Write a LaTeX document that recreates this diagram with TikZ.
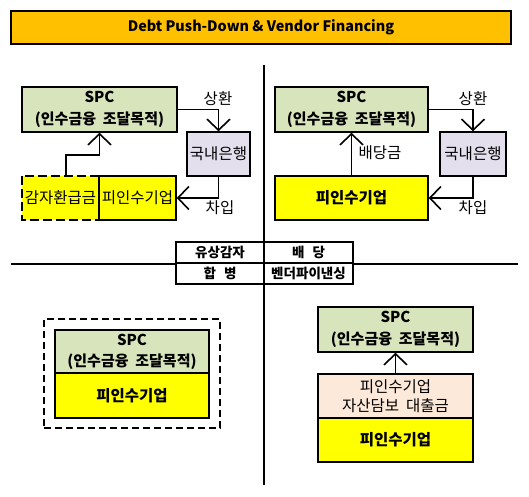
\documentclass[tikz,border=0pt]{standalone}
\usepackage{fontspec}
\setmainfont{Noto Sans CJK KR}
\usetikzlibrary{arrows.meta}
\definecolor{titleorange}{HTML}{FFC000}
\definecolor{spcgreen}{HTML}{D8E4BC}
\definecolor{banklav}{HTML}{E4DFEC}
\definecolor{tgtyellow}{HTML}{FFFF00}
\definecolor{loanpink}{HTML}{FDE9D9}
\newcommand{\wsp}{\hspace{0.45em}}
\tikzset{
  box/.style={draw=black, line width=1.5pt, inner sep=0pt, align=center, font=\fontsize{15.5}{22}\selectfont},
  spcbox/.style={box, fill=spcgreen, font=\bfseries\fontsize{15}{22}\selectfont},
  bankbox/.style={box, fill=banklav},
  tgtbox/.style={box, fill=tgtyellow},
  lbl/.style={inner sep=0pt, font=\fontsize{15.5}{17}\selectfont},
  cell/.style={draw=black, line width=1.5pt, fill=white, inner sep=0pt, font=\bfseries\fontsize{13.5}{15}\selectfont},
  arr/.style={line width=1.6pt, -{Straight Barb[length=11pt,width=23pt]}},
  divline/.style={line width=1.8pt},
}
\begin{document}
\begin{tikzpicture}[x=1pt,y=-1pt]
\useasboundingbox (0,0) rectangle (529,496);
% title
\node[draw=black, line width=2pt, fill=titleorange, minimum width=500pt, minimum height=33pt, inner sep=0pt,
  font=\bfseries\fontsize{14.4}{17}\selectfont] (title) at (261,27.5) {Debt Push-Down \& Vendor Financing};
% dividers
\coordinate (vt) at (264,65);
\coordinate (vb) at (264,485);
\coordinate (hl) at (11,264);
\coordinate (hr) at (518,264);
\draw[divline] (vt) -- (vb);
\draw[divline] (hl) -- (hr);
% ---------- top left ----------
\node[spcbox, minimum width=155pt, minimum height=45pt] (spc1) at (99.5,109.5) {SPC\\(인수금융\wsp 조달목적)};
\node[bankbox, minimum width=63pt, minimum height=44pt] (bank1) at (218.5,154) {국내은행};
\node[inner sep=0pt, minimum width=77pt, minimum height=44pt, fill=tgtyellow, font=\fontsize{15.5}{17}\selectfont] (cap1) at (60.5,198) {감자환급금};
\draw[line width=1.5pt, dash pattern=on 9pt off 4pt] (cap1.north east) -- (cap1.north west) -- (cap1.south west) -- (cap1.south east);
\node[tgtbox, minimum width=77pt, minimum height=44pt] (tgt1) at (137.5,198) {피인수기업};
\coordinate (m1) at (99.5,155);
\node[lbl] (rep1) at (218,99) {상환};
\node[lbl] (bor1) at (220,208) {차입};
\draw[arr] (spc1.east) -| (bank1.north);
\draw[arr] (bank1.south) |- (tgt1.east);
\draw[arr] ([xshift=5.5pt]cap1.north) |- (m1) -- (spc1.south);
% ---------- top right ----------
\node[spcbox, minimum width=153pt, minimum height=45pt] (spc2) at (351.5,109.5) {SPC\\(인수금융\wsp 조달목적)};
\node[bankbox, minimum width=66pt, minimum height=44pt] (bank2) at (473,154) {국내은행};
\node[tgtbox, minimum width=153pt, minimum height=44pt, font=\bfseries\fontsize{15.5}{17}\selectfont] (tgt2) at (351.5,198) {피인수기업};
\node[lbl] (rep2) at (473,99) {상환};
\node[lbl] (bor2) at (473,208) {차입};
\node[lbl] (div2) at (380,153) {배당금};
\draw[arr] (spc2.east) -| (bank2.north);
\draw[arr] (bank2.south) |- (tgt2.east);
\draw[arr] (tgt2.north) -- (spc2.south);
% ---------- middle table ----------
\node[cell, minimum width=88pt, minimum height=21pt] (c11) at (220,252.5) {유상감자};
\node[cell, minimum width=89pt, minimum height=21pt] (c12) at (308.5,252.5) {배\hspace{0.6em}당};
\node[cell, minimum width=88pt, minimum height=21pt] (c21) at (220,273.5) {합\hspace{0.6em}병};
\node[cell, minimum width=89pt, minimum height=21pt] (c22) at (308.5,273.5) {벤더파이낸싱};
% ---------- bottom left ----------
\node[draw=black, line width=1.5pt, dash pattern=on 7pt off 4pt, minimum width=176pt, minimum height=109pt, inner sep=0pt] (merge) at (132,373.5) {};
\node[spcbox, minimum width=154pt, minimum height=43pt, font=\bfseries\fontsize{15}{21}\selectfont] (spc3) at (132,351.5) {SPC\\(인수금융\wsp 조달목적)};
\node[tgtbox, minimum width=154pt, minimum height=45pt, font=\bfseries\fontsize{15.5}{17}\selectfont] (tgt3) at (132,395.5) {피인수기업};
% ---------- bottom right ----------
\node[spcbox, minimum width=155pt, minimum height=45pt] (spc4) at (395.5,329.5) {SPC\\(인수금융\wsp 조달목적)};
\node[box, fill=loanpink, minimum width=155pt, minimum height=44pt, font=\fontsize{15.5}{19}\selectfont] (loan4) at (395.5,396) {피인수기업\\자산담보\wsp 대출금};
\node[tgtbox, minimum width=155pt, minimum height=44pt, font=\bfseries\fontsize{15.5}{17}\selectfont] (tgt4) at (395.5,440) {피인수기업};
\draw[arr] (loan4.north) -- (spc4.south);
\end{tikzpicture}
\end{document}
